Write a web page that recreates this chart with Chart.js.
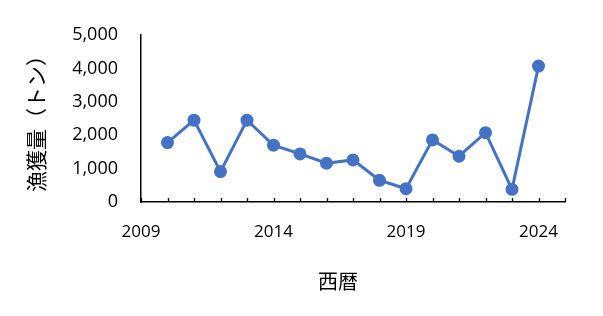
<!DOCTYPE html>
<html>
<head>
<meta charset="utf-8">
<script src="https://cdn.jsdelivr.net/npm/chart.js@4"></script>
<style>
  html, body { margin: 0; padding: 0; background: #fff; }
  #wrap { width: 603px; height: 316px; }
</style>
</head>
<body>
<div id="wrap"><canvas id="c"></canvas></div>
<script>
const years = [2010, 2011, 2012, 2013, 2014, 2015, 2016, 2017, 2018, 2019, 2020, 2021, 2022, 2023, 2024];
const catch_t = [1780, 2450, 910, 2450, 1700, 1440, 1160, 1260, 650, 400, 1860, 1370, 2075, 380, 4070];
const yTitle = '漁獲量（トン）';
const xTitle = '西暦';

const lineColor = '#4472C4';
const font = "'Open Sans', 'Noto Sans CJK JP', sans-serif";

// small tick marks drawn inward from the x axis line, plus the x title
// centred on the whole figure (not the plot area) like the original
const extras = {
  id: 'extras',
  afterDraw(chart) {
    const x = chart.scales.x;
    const ctx = chart.ctx;
    const y0 = chart.chartArea.bottom;
    ctx.save();
    ctx.strokeStyle = '#000';
    ctx.lineWidth = 1.3;
    for (let v = x.min; v <= x.max; v++) {
      const px = Math.round(x.getPixelForValue(v)) + 0.5;
      ctx.beginPath();
      ctx.moveTo(px, y0);
      ctx.lineTo(px, y0 - 4);
      ctx.stroke();
    }
    ctx.fillStyle = '#000';
    ctx.font = '20px ' + font;
    ctx.textAlign = 'center';
    ctx.textBaseline = 'middle';
    ctx.fillText(xTitle, 338, 283);
    ctx.restore();
  }
};

new Chart(document.getElementById('c'), {
  type: 'line',
  data: {
    datasets: [{
      data: years.map((y, i) => ({ x: y, y: catch_t[i] })),
      borderColor: lineColor,
      backgroundColor: lineColor,
      borderWidth: 3,
      pointRadius: 5,
      pointHoverRadius: 5,
      tension: 0
    }]
  },
  options: {
    responsive: true,
    maintainAspectRatio: false,
    animation: false,
    layout: { padding: { top: 35, right: 38, bottom: 0, left: 25 } },
    plugins: { legend: { display: false }, tooltip: { enabled: false } },
    scales: {
      x: {
        type: 'linear',
        min: 2009,
        max: 2025,
        border: { color: '#000', width: 1.5 },
        grid: { display: false },
        ticks: {
          stepSize: 1,
          autoSkip: false,
          maxRotation: 0,
          padding: 12,
          color: '#000',
          font: { family: font, size: 17 },
          callback: v => ((v - 2009) % 5 === 0 && v <= 2024) ? String(v) : ''
        },
        title: { display: false, text: xTitle },
        afterFit: s => { s.height = 114; }
      },
      y: {
        min: 0,
        max: 5000,
        border: { color: '#000', width: 1.5 },
        grid: { display: false, drawTicks: false },
        ticks: {
          stepSize: 1000,
          padding: 23,
          color: '#000',
          font: { family: font, size: 18 },
          callback: v => v.toLocaleString('en-US')
        },
        title: {
          display: true,
          text: yTitle,
          color: '#000',
          font: { family: font, size: 21 },
          padding: { top: 0, bottom: 4 }
        },
        afterFit: s => { s.width = 116; }
      }
    }
  },
  plugins: [extras]
});
</script>
</body>
</html>
